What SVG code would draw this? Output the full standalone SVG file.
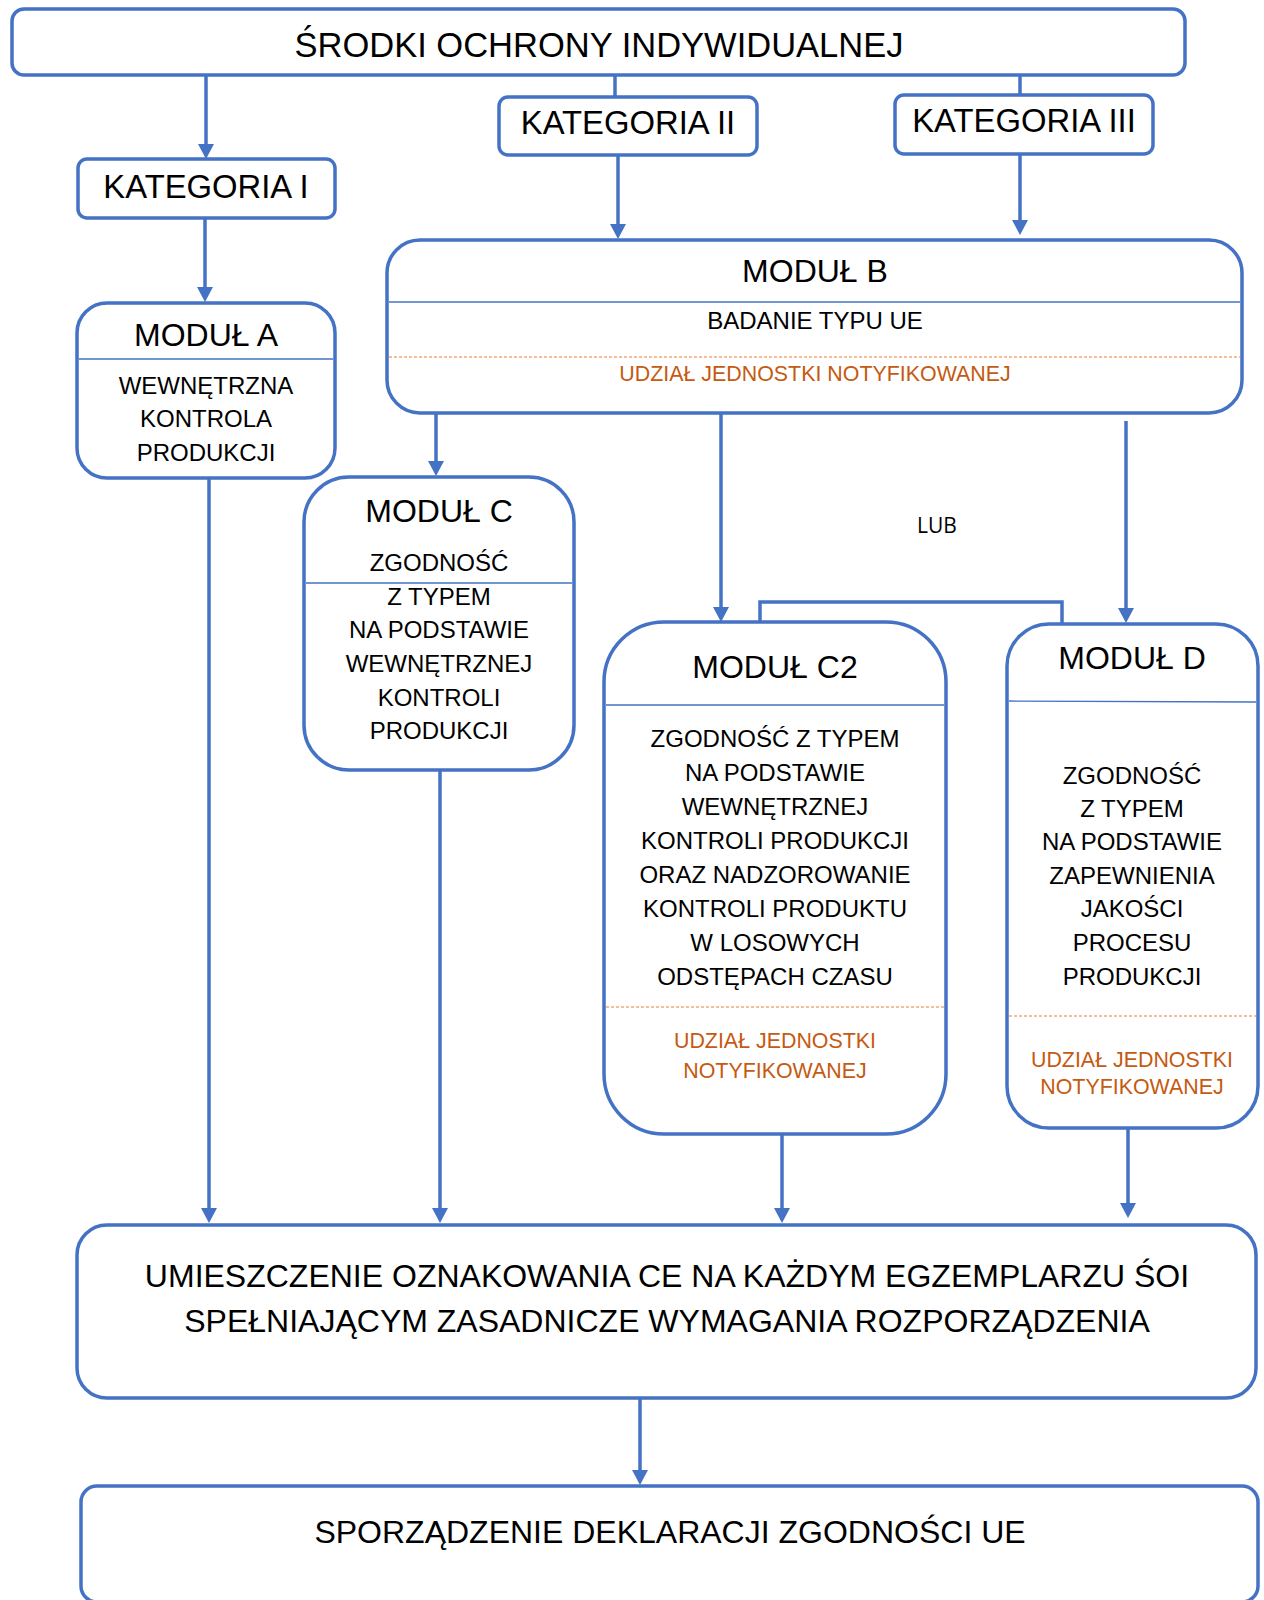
<svg xmlns="http://www.w3.org/2000/svg" width="1264" height="1600" viewBox="0 0 1264 1600">
<defs>
<marker id="arr" markerUnits="userSpaceOnUse" markerWidth="16" markerHeight="16" viewBox="0 0 16 16" refX="7" refY="8" orient="auto">
<path d="M0,0 L15,8 L0,16 z" fill="#4472C4"/>
</marker>
</defs>
<style>
.box{fill:#fff;stroke:#4472C4;stroke-width:3.5}
.sep{stroke:#4472C4;stroke-width:1.3;fill:none}
.dash{stroke:#ED7D31;stroke-width:1.2;stroke-dasharray:3 2;fill:none}
.con{stroke:#4472C4;stroke-width:3.5;fill:none}
.ca{stroke:#4472C4;stroke-width:3.5;fill:none;marker-end:url(#arr)}
text{font-family:"Liberation Sans",Arial,sans-serif;fill:#000;text-anchor:middle}
.t34{font-size:34.5px}
.t32{font-size:32px}
.tk{font-size:32.8px}
.tb{font-size:32px}
.b24{font-size:24px}
.b23{font-size:24px}
.or{fill:#C55A11;font-size:21.4px}
.lub{font-family:"Open Sans",sans-serif;font-size:21px}
</style>

<g id="connectors">
<line class="ca" x1="206" y1="76" x2="206" y2="151"/>
<line class="con" x1="615" y1="76" x2="615" y2="97"/>
<line class="con" x1="1020" y1="76" x2="1020" y2="95"/>
<line class="ca" x1="618" y1="155" x2="618" y2="231"/>
<line class="ca" x1="1020" y1="150" x2="1020" y2="227"/>
<line class="ca" x1="205" y1="218" x2="205" y2="294"/>
<line class="ca" x1="436" y1="413" x2="436" y2="468"/>
<line class="ca" x1="721" y1="413" x2="721" y2="614"/>
<line class="ca" x1="1126" y1="421" x2="1126" y2="615"/>
<path class="con" d="M760,622 V602 H1062 V624"/>
<line class="ca" x1="209" y1="478" x2="209" y2="1215"/>
<line class="ca" x1="440" y1="770" x2="440" y2="1215"/>
<line class="ca" x1="782" y1="1134" x2="782" y2="1215"/>
<line class="ca" x1="1128" y1="1128" x2="1128" y2="1210"/>
<line class="ca" x1="640" y1="1398" x2="640" y2="1477"/>
</g>

<g id="srodki">
<rect class="box" x="12" y="9" width="1173" height="66" rx="12"/>
<text class="t34" x="599" y="57">ŚRODKI OCHRONY INDYWIDUALNEJ</text>
</g>

<g id="kat1">
<rect class="box" x="78" y="159" width="257" height="59" rx="9"/>
<text class="tk" x="206" y="198">KATEGORIA I</text>
</g>

<g id="kat2">
<rect class="box" x="499" y="97" width="258" height="58" rx="9"/>
<text class="tk" x="628" y="134">KATEGORIA II</text>
</g>

<g id="kat3">
<rect class="box" x="895" y="95" width="258" height="59" rx="9"/>
<text class="tk" x="1024" y="132">KATEGORIA III</text>
</g>

<g id="modulA">
<rect class="box" x="77" y="303" width="258" height="175" rx="30"/>
<text class="t32" x="206" y="346">MODUŁ A</text>
<line class="sep" x1="79" y1="359" x2="333" y2="359"/>
<text class="b24" x="206" y="394">WEWNĘTRZNA</text>
<text class="b24" x="206" y="427">KONTROLA</text>
<text class="b24" x="206" y="461">PRODUKCJI</text>
</g>

<g id="modulB">
<rect class="box" x="387" y="240" width="855" height="173" rx="33"/>
<text class="t32" x="815" y="282">MODUŁ B</text>
<line class="sep" x1="389" y1="302" x2="1240" y2="302"/>
<text class="b23" x="815" y="329">BADANIE TYPU UE</text>
<line class="dash" x1="389" y1="357" x2="1240" y2="357"/>
<text class="or" x="815" y="381">UDZIAŁ JEDNOSTKI NOTYFIKOWANEJ</text>
</g>

<g id="modulC">
<rect class="box" x="304" y="477" width="270" height="293" rx="45"/>
<text class="t32" x="439" y="522">MODUŁ C</text>
<text class="b24" x="439" y="571">ZGODNOŚĆ</text>
<line class="sep" x1="306" y1="583" x2="572" y2="583"/>
<text class="b24" x="439" y="605">Z TYPEM</text>
<text class="b24" x="439" y="638">NA PODSTAWIE</text>
<text class="b24" x="439" y="672">WEWNĘTRZNEJ</text>
<text class="b24" x="439" y="706">KONTROLI</text>
<text class="b24" x="439" y="739">PRODUKCJI</text>
</g>

<g id="lub">
<text class="lub" x="937" y="533">LUB</text>
</g>

<g id="modulC2">
<rect class="box" x="604" y="622" width="342" height="512" rx="60"/>
<text class="t32" x="775" y="678">MODUŁ C2</text>
<line class="sep" x1="606" y1="705" x2="944" y2="705"/>
<text class="b24" x="775" y="747">ZGODNOŚĆ Z TYPEM</text>
<text class="b24" x="775" y="781">NA PODSTAWIE</text>
<text class="b24" x="775" y="815">WEWNĘTRZNEJ</text>
<text class="b24" x="775" y="849">KONTROLI PRODUKCJI</text>
<text class="b24" x="775" y="883">ORAZ NADZOROWANIE</text>
<text class="b24" x="775" y="917">KONTROLI PRODUKTU</text>
<text class="b24" x="775" y="951">W LOSOWYCH</text>
<text class="b24" x="775" y="985">ODSTĘPACH CZASU</text>
<line class="dash" x1="606" y1="1007" x2="944" y2="1007"/>
<text class="or" x="775" y="1048">UDZIAŁ JEDNOSTKI</text>
<text class="or" x="775" y="1078">NOTYFIKOWANEJ</text>
</g>

<g id="modulD">
<rect class="box" x="1007" y="624" width="251" height="504" rx="42"/>
<text class="t32" x="1132" y="669">MODUŁ D</text>
<line class="sep" x1="1009" y1="701" x2="1256" y2="702"/>
<text class="b24" x="1132" y="784">ZGODNOŚĆ</text>
<text class="b24" x="1132" y="817">Z TYPEM</text>
<text class="b24" x="1132" y="850">NA PODSTAWIE</text>
<text class="b24" x="1132" y="884">ZAPEWNIENIA</text>
<text class="b24" x="1132" y="917">JAKOŚCI</text>
<text class="b24" x="1132" y="951">PROCESU</text>
<text class="b24" x="1132" y="985">PRODUKCJI</text>
<line class="dash" x1="1009" y1="1016" x2="1256" y2="1016"/>
<text class="or" x="1132" y="1067">UDZIAŁ JEDNOSTKI</text>
<text class="or" x="1132" y="1094">NOTYFIKOWANEJ</text>
</g>

<g id="umieszczenie">
<rect class="box" x="77" y="1225" width="1179" height="173" rx="30"/>
<text class="tb" x="667" y="1287">UMIESZCZENIE OZNAKOWANIA CE NA KAŻDYM EGZEMPLARZU ŚOI</text>
<text class="tb" x="667" y="1332">SPEŁNIAJĄCYM ZASADNICZE WYMAGANIA ROZPORZĄDZENIA</text>
</g>

<g id="deklaracja">
<rect class="box" x="81" y="1486" width="1177" height="116" rx="16"/>
<text class="t32" x="670" y="1543">SPORZĄDZENIE DEKLARACJI ZGODNOŚCI UE</text>
</g>
</svg>
